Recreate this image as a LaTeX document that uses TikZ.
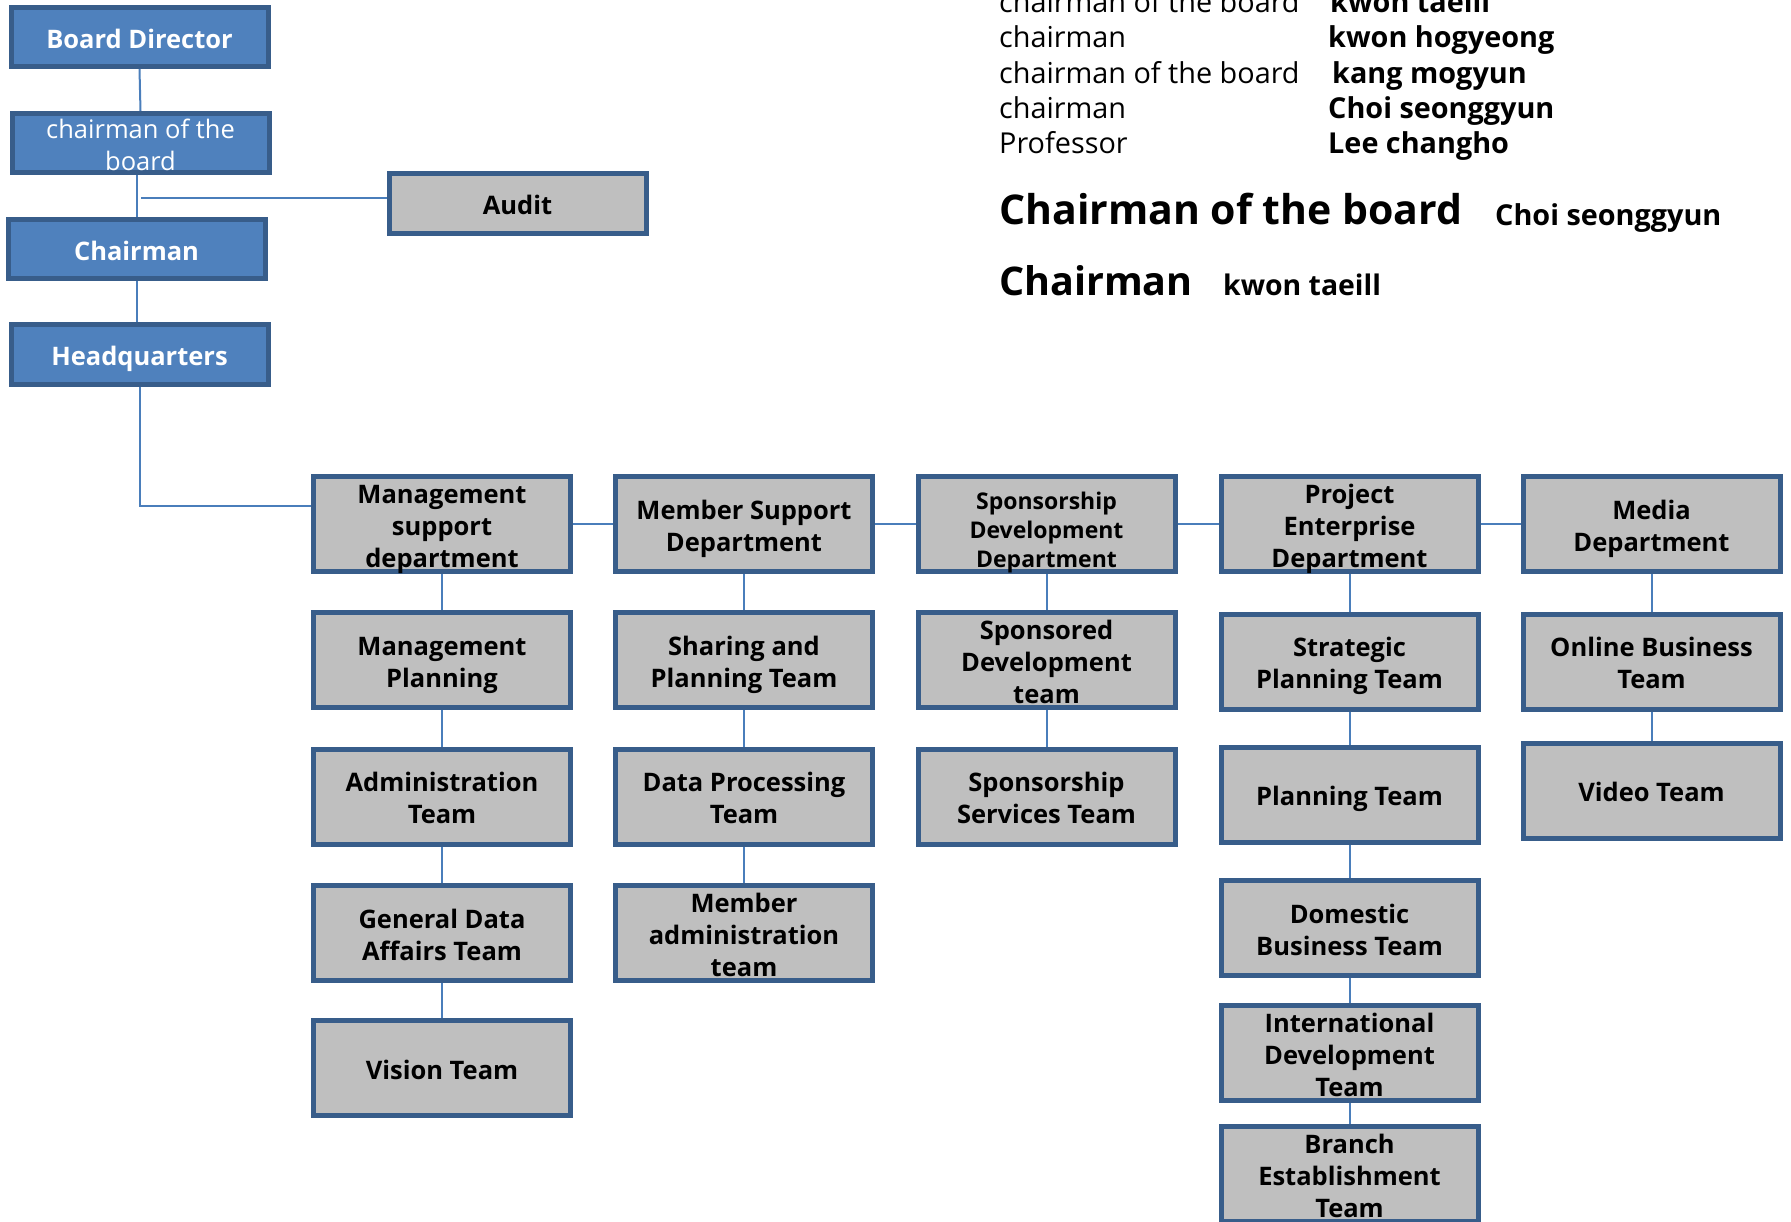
\documentclass[tikz,border=0pt]{standalone}
\usepackage{fontspec}
\setmainfont{Open Sans}
\definecolor{boxgrey}{HTML}{BFBFBF}
\definecolor{bluefill}{HTML}{4F81BD}
\definecolor{bordercol}{HTML}{385D8A}
\definecolor{conncol}{HTML}{4A7EBB}
\newcommand\orgfont{\fontsize{25.5}{32}\selectfont\bfseries}
\newcommand\orgsmallfont{\fontsize{23}{29}\selectfont\bfseries}
\newcommand\lightfont{\fontsize{25.5}{32}\selectfont}
\newcommand\listfont{\fontsize{28.8}{34}\selectfont}
\newcommand\namefont{\fontsize{28.8}{34}\selectfont\bfseries}
\newcommand\bigfont{\fontsize{41}{48}\selectfont\bfseries}
\newcommand\bigfontb{\fontsize{39.5}{48}\selectfont\bfseries}
\newcommand\namefontb{\fontsize{28.4}{34}\selectfont\bfseries}
% struts: top of first line / bottom of last line
\newcommand\bs{\rule{0pt}{30pt}}
\newcommand\es{\rule[-8pt]{0pt}{8pt}}
\newcommand\bss{\rule{0pt}{34.5pt}}
\newcommand\ess{\rule[-3.5pt]{0pt}{3.5pt}}
\tikzset{
  orgbox/.style={draw=bordercol, line width=5pt, fill=boxgrey, minimum width=257pt,
    minimum height=95pt, inner xsep=0pt, inner ysep=-12pt, align=center, font=\orgfont, text=black},
  bluebox/.style={orgbox, fill=bluefill, text=white, minimum height=59pt},
  auditbox/.style={orgbox, minimum height=60pt},
  conn/.style={draw=conncol, line width=2pt},
  listtext/.style={anchor=base west, inner sep=0pt, font=\listfont},
  nametext/.style={anchor=base west, inner sep=0pt, font=\namefont},
  bigtext/.style={anchor=base west, inner sep=0pt, font=\bigfont},
}
\begin{document}
\begin{tikzpicture}[x=1pt,y=-1pt]
\useasboundingbox[fill=white] (0,0) rectangle (1791,1221);

% top-left chain
\node[bluebox] (bd) at (139.5,37) {\bs Board Director\es};
\node[bluebox, font=\lightfont] (cob) at (140.5,143) {\bs chairman of the\\board\es};
\node[bluebox] (chair) at (136.5,249) {\bs Chairman\es};
\node[bluebox, minimum height=60pt] (hq) at (139.5,354.5) {\bs Headquarters\es};
\node[auditbox] (audit) at (517.5,203.5) {\bs Audit\es};

% column 1
\node[orgbox] (a1) at (442,524) {\bs Management\\support\\department\es};
\node[orgbox] (a2) at (442,660) {\bs Management\\Planning\es};
\node[orgbox] (a3) at (442,796.5) {\bs Administration\\Team\es};
\node[orgbox] (a4) at (442,933) {\bs General Data\\Affairs Team\es};
\node[orgbox] (a5) at (442,1068) {\bs Vision Team\es};

% column 2
\node[orgbox] (b1) at (744,524) {\bs Member Support\\Department\es};
\node[orgbox] (b2) at (744,660) {\bs Sharing and\\Planning Team\es};
\node[orgbox] (b3) at (744,796.5) {\bs Data Processing\\Team\es};
\node[orgbox] (b4) at (744,933) {\bs Member\\administration\\team\es};

% column 3
\node[orgbox, font=\orgsmallfont] (c1) at (1046.5,524) {\bss Sponsorship\\Development\\Department\ess};
\node[orgbox] (c2) at (1046.5,660) {\bs Sponsored\\Development\\team\es};
\node[orgbox] (c3) at (1046.5,796.5) {\bs Sponsorship\\Services Team\es};

% column 4
\node[orgbox] (d1) at (1349.5,524) {\bs Project\\Enterprise\\Department\es};
\node[orgbox] (d2) at (1349.5,661.5) {\bs Strategic\\Planning Team\es};
\node[orgbox] (d3) at (1349.5,794.5) {\bs Planning Team\es};
\node[orgbox] (d4) at (1349.5,928) {\bs Domestic\\Business Team\es};
\node[orgbox] (d5) at (1349.5,1053) {\bs International\\Development\\Team\es};
\node[orgbox] (d6) at (1349.5,1174) {\bs Branch\\Establishment\\Team\es};

% column 5
\node[orgbox] (e1) at (1651.5,524) {\bs Media\\Department\es};
\node[orgbox] (e2) at (1651.5,661.5) {\bs Online Business\\Team\es};
\node[orgbox] (e3) at (1651.5,790.5) {\bs Video Team\es};

% connectors top-left
\draw[conn] (bd.south) -- (cob.north);
\draw[conn] (chair.north |- cob.south) -- (chair.north);
\draw[conn] (chair.south) -- (chair.south |- hq.north);
\coordinate (aj) at (141,198);
\draw[conn] (aj) -- (aj -| audit.west);
\coordinate (hqj) at (311,506);
\draw[conn] (hq.south) |- (hqj);

% department row
\draw[conn] (a1) -- (b1);
\draw[conn] (b1) -- (c1);
\draw[conn] (c1) -- (d1);
\draw[conn] (d1) -- (e1);

% columns
\draw[conn] (a1) -- (a2);
\draw[conn] (a2) -- (a3);
\draw[conn] (a3) -- (a4);
\draw[conn] (a4) -- (a5);
\draw[conn] (b1) -- (b2);
\draw[conn] (b2) -- (b3);
\draw[conn] (b3) -- (b4);
\draw[conn] (c1) -- (c2);
\draw[conn] (c2) -- (c3);
\draw[conn] (d1) -- (d2);
\draw[conn] (d2) -- (d3);
\draw[conn] (d3) -- (d4);
\draw[conn] (d4) -- (d5);
\draw[conn] (d5) -- (d6);
\draw[conn] (e1) -- (e2);
\draw[conn] (e2) -- (e3);

% top-right text
\node[listtext] (l1) at (999,12) {chairman of the board};
\node[nametext] (n1) at (1330,12) {kwon taeill};
\node[listtext] (l2) at (999,47.5) {chairman};
\node[nametext] (n2) at (1328,47.5) {kwon hogyeong};
\node[listtext] (l3) at (999,83) {chairman of the board};
\node[nametext] (n3) at (1332,83) {kang mogyun};
\node[listtext] (l4) at (999,118) {chairman};
\node[nametext] (n4) at (1328,118) {Choi seonggyun};
\node[listtext] (l5) at (999,153.5) {Professor};
\node[nametext] (n5) at (1328,153.5) {Lee changho};

\node[bigtext] (big1) at (999,224) {Chairman of the board};
\node[nametext] (bn1) at (1495,225) {Choi seonggyun};
\node[bigtext, font=\bigfontb] (big2) at (999,295) {Chairman};
\node[nametext, font=\namefontb] (bn2) at (1223,295) {kwon taeill};
\end{tikzpicture}
\end{document}
